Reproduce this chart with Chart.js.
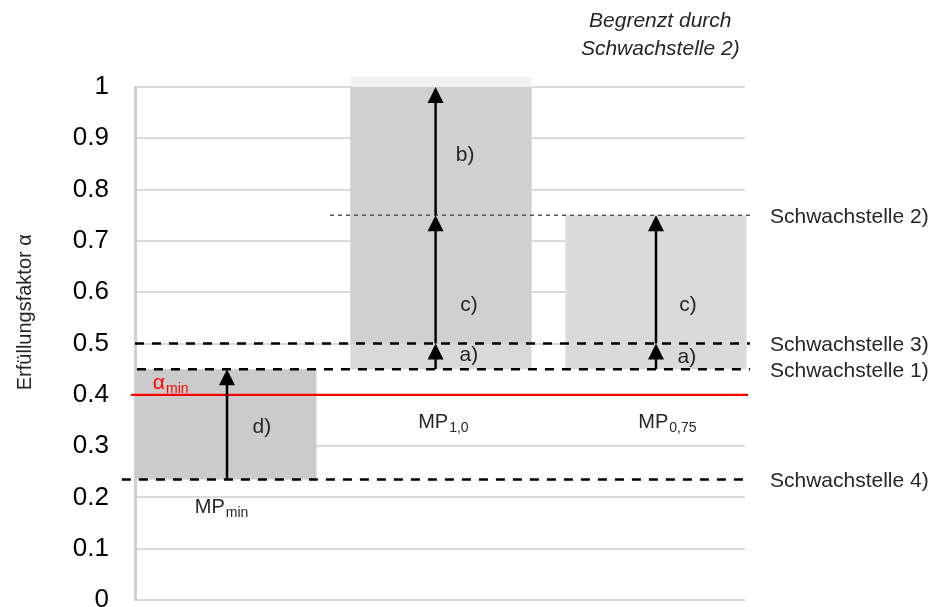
<html>
  <head>
    <script src="https://cdn.jsdelivr.net/npm/chart.js@4.4.0/dist/chart.umd.min.js"></script>
    <style>
      body { margin: 0; background: #fff; }
      #wrap { width: 935px; height: 607px; position: relative; }
    </style>
  </head>
  <body>
    <div id="wrap"><canvas id="chart"></canvas></div>
    <script>
      // categories (x position 0, 1, 2) and the grey boxes
      var categories = ['MP_min', 'MP_1,0', 'MP_0,75'];
      var barLow  = [0.235, 0.45, 0.45];
      var barHigh = [0.45, 1.0, 0.75];
      var barColors = ['#cbcbcb', '#d9d9d9', '#dadada'];
      // darker upper part of MP_1,0 and the faint strip above 1
      var upperBar = [0.5, 1.0];
      var topStrip = [1.0, 1.02];

      // weak points (Schwachstellen)
      var weakNames  = ['Schwachstelle 1)', 'Schwachstelle 2)', 'Schwachstelle 3)', 'Schwachstelle 4)'];
      var weakValues = [0.45, 0.75, 0.5, 0.235];
      var weakStart  = [-0.414, 0.484, -0.423, -0.484];
      var weakEnd    = 2.437;

      var alphaMin = 0.4;
      var alphaStart = -0.442, alphaEnd = 2.428;

      // arrows
      var arrowX     = [0.005, 0.975, 0.975, 0.975, 2.0, 2.0];
      var arrowFrom  = [0.235, 0.45, 0.5, 0.75, 0.45, 0.5];
      var arrowTo    = [0.45, 0.5, 0.75, 1.0, 0.5, 0.75];

      // step labels
      var stepText = ['d)', 'a)', 'c)', 'b)', 'a)', 'c)'];
      var stepX    = [0.167, 1.13, 1.13, 1.112, 2.144, 2.149];
      var stepY    = [0.337, 0.478, 0.575, 0.867, 0.474, 0.575];

      // category labels under the boxes
      var catMain = ['MP', 'MP', 'MP'];
      var catSub  = ['min', '1,0', '0,75'];
      var catX    = [-0.023, 1.009, 2.051];
      var catY    = [0.181, 0.347, 0.347];

      var yTicks = [0, 0.1, 0.2, 0.3, 0.4, 0.5, 0.6, 0.7, 0.8, 0.9, 1];

      var FONT = "'Liberation Sans', Arial, sans-serif";

      function hLine(y, x0, x1, color, width, dash) {
        return {
          type: 'line',
          data: [{x: x0, y: y}, {x: x1, y: y}],
          borderColor: color,
          borderWidth: width,
          borderDash: dash,
          pointRadius: 0,
          clip: false,
          order: 0
        };
      }

      var datasets = [];
      // lines first so they sit on top
      for (var i = 0; i < weakValues.length; i++) {
        if (weakNames[i] == 'Schwachstelle 2)') {
          datasets.push(hLine(weakValues[i], weakStart[i], weakEnd, '#555', 1.5, [4, 4]));
        } else {
          datasets.push(hLine(weakValues[i], weakStart[i], weakEnd, '#000', 2.5, [9, 8]));
        }
      }
      datasets.push(hLine(alphaMin, alphaStart, alphaEnd, '#ff0000', 2.2, []));

      var barCommon = {
        type: 'bar',
        grouped: false,
        categoryPercentage: 1,
        barPercentage: 0.842,
        borderWidth: 0,
        clip: false
      };
      datasets.push(Object.assign({}, barCommon, {
        data: [{x: 1, y: upperBar}],
        backgroundColor: '#d0d0d0',
        order: 1
      }));
      datasets.push(Object.assign({}, barCommon, {
        data: [{x: 1, y: topStrip}],
        backgroundColor: '#f1f1f1',
        order: 1
      }));
      datasets.push(Object.assign({}, barCommon, {
        data: categories.map(function(c, i) { return {x: i, y: [barLow[i], barHigh[i]]}; }),
        backgroundColor: barColors,
        order: 2
      }));

      function drawRich(ctx, x, y, main, sub, size, subSize, color, align) {
        ctx.fillStyle = color;
        ctx.textBaseline = 'middle';
        ctx.textAlign = 'left';
        ctx.font = size + 'px ' + FONT;
        var w1 = ctx.measureText(main).width;
        ctx.font = subSize + 'px ' + FONT;
        var w2 = sub ? ctx.measureText(sub).width : 0;
        var left = align == 'center' ? x - (w1 + w2) / 2 : x;
        ctx.font = size + 'px ' + FONT;
        ctx.fillText(main, left, y);
        if (sub) {
          ctx.font = subSize + 'px ' + FONT;
          ctx.fillText(sub, left + w1 + 1, y + size * 0.3);
        }
      }

      var overlay = {
        id: 'overlay',
        afterDatasetsDraw: function(chart) {
          var ctx = chart.ctx;
          var xs = chart.scales.x, ys = chart.scales.y;
          ctx.save();

          // arrows
          ctx.strokeStyle = '#000';
          ctx.fillStyle = '#000';
          for (var i = 0; i < arrowX.length; i++) {
            var px = xs.getPixelForValue(arrowX[i]);
            var p0 = ys.getPixelForValue(arrowFrom[i]);
            var p1 = ys.getPixelForValue(arrowTo[i]);
            ctx.lineWidth = 2.5;
            ctx.beginPath();
            ctx.moveTo(px, p0);
            ctx.lineTo(px, p1 + 14);
            ctx.stroke();
            ctx.beginPath();
            ctx.moveTo(px, p1);
            ctx.lineTo(px - 8, p1 + 16);
            ctx.lineTo(px + 8, p1 + 16);
            ctx.closePath();
            ctx.fill();
          }

          // step labels
          for (var i = 0; i < stepText.length; i++) {
            drawRich(ctx, xs.getPixelForValue(stepX[i]), ys.getPixelForValue(stepY[i]),
              stepText[i], null, 21, 14, '#262626', 'center');
          }

          // category labels
          for (var i = 0; i < catMain.length; i++) {
            drawRich(ctx, xs.getPixelForValue(catX[i]), ys.getPixelForValue(catY[i]),
              catMain[i], catSub[i], 20, 14, '#262626', 'center');
          }

          // alpha_min
          drawRich(ctx, xs.getPixelForValue(-0.34), ys.getPixelForValue(0.423),
            'α', 'min', 21, 14, '#ff0000', 'left');

          // weak point names on the right
          var rx = xs.getPixelForValue(weakEnd) + 20;
          for (var i = 0; i < weakNames.length; i++) {
            drawRich(ctx, rx, ys.getPixelForValue(weakValues[i]) + 2,
              weakNames[i], null, 21, 14, '#262626', 'left');
          }

          // note above MP_0,75
          ctx.font = 'italic 21px ' + FONT;
          ctx.fillStyle = '#262626';
          ctx.textAlign = 'center';
          ctx.textBaseline = 'middle';
          var nx = xs.getPixelForValue(2.02);
          ctx.fillText('Begrenzt durch', nx, ys.getPixelForValue(1.128));
          ctx.fillText('Schwachstelle 2)', nx, ys.getPixelForValue(1.074));

          // y axis title
          ctx.translate(25, ys.getPixelForValue(0.561));
          ctx.rotate(-Math.PI / 2);
          ctx.font = '20px ' + FONT;
          ctx.fillStyle = '#262626';
          ctx.fillText('Erfüllungsfaktor α', 0, 0);

          ctx.restore();
        }
      };

      new Chart(document.getElementById('chart').getContext('2d'), {
        data: { datasets: datasets },
        options: {
          responsive: true,
          maintainAspectRatio: false,
          animation: false,
          events: [],
          layout: { padding: { left: 0, right: 190, top: 87, bottom: 7 } },
          plugins: { legend: { display: false }, tooltip: { enabled: false } },
          scales: {
            x: {
              type: 'linear',
              display: false,
              offset: false,
              grid: { offset: false },
              min: -0.423,
              max: 2.414,
              afterBuildTicks: function(s) {
                s.ticks = categories.map(function(c, i) { return {value: i}; });
              }
            },
            y: {
              type: 'linear',
              min: 0,
              max: 1,
              afterBuildTicks: function(s) {
                s.ticks = yTicks.map(function(v) { return {value: v}; });
              },
              ticks: {
                color: '#000',
                padding: 26,
                font: { family: FONT, size: 26 },
                callback: function(v) { return String(v); }
              },
              grid: { color: '#dadada', lineWidth: 2, drawTicks: false },
              border: { color: '#d0d0d0', width: 3 },
              afterFit: function(s) {
                s.width = 135;
                s.paddingTop = 0;
                s.paddingBottom = 0;
              }
            }
          }
        },
        plugins: [overlay]
      });
    </script>
  </body>
</html>
